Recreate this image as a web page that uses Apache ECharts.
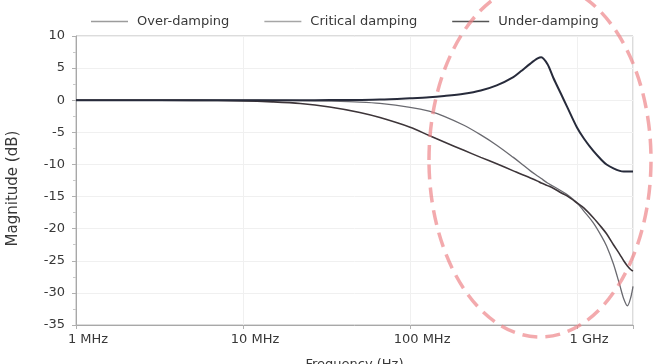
<!DOCTYPE html>
<html>
<head>
<meta charset="utf-8">
<script src="https://cdn.jsdelivr.net/npm/echarts@6/dist/echarts.min.js"></script>
<style>
  html, body { margin: 0; padding: 0; background: #fff; }
  #chart { width: 654px; height: 364px; }
</style>
</head>
<body>
<div id="chart"></div>
<script>
// Frequency sweep points (MHz)
const freqMHz = [1, 2, 5, 10, 15, 22, 33, 50, 66, 100, 130, 160, 210, 265, 330, 415, 460, 525, 580, 610, 665, 720, 800, 870, 1000, 1100, 1250, 1400, 1500, 1650, 1800, 1900, 2000, 2100, 2160];

// Magnitude responses (dB)
const overDamping = [0, 0, -0.02, -0.1, -0.25, -0.5, -1.05, -1.9, -2.7, -4.2, -5.5, -6.5, -7.8, -8.9, -9.9, -11.0, -11.5, -12.1, -12.6, -12.9, -13.3, -13.7, -14.4, -14.9, -16.0, -16.8, -18.3, -19.8, -20.8, -22.5, -24.0, -25.0, -25.8, -26.4, -26.6];
const criticalDamping = [0, 0, 0, 0, -0.02, -0.05, -0.15, -0.3, -0.5, -1.1, -1.7, -2.5, -3.9, -5.4, -7.0, -8.9, -9.8, -11.0, -11.8, -12.2, -12.9, -13.4, -14.1, -14.7, -16.0, -17.3, -19.1, -21.2, -22.7, -25.5, -28.8, -30.9, -32.0, -30.6, -29.0];
const underDamping = [0, 0, 0, 0, 0, 0, 0.02, 0.05, 0.1, 0.3, 0.45, 0.65, 1.0, 1.5, 2.3, 3.6, 4.5, 5.7, 6.5, 6.7, 5.6, 3.5, 1.0, -1.0, -4.3, -6.0, -7.9, -9.3, -10.0, -10.6, -11.0, -11.1, -11.1, -11.1, -11.1];

const seriesNames = ['Over-damping', 'Critical damping', 'Under-damping'];
const decadeLabels = { 1: '1 MHz', 10: '10 MHz', 100: '100 MHz', 1000: '1 GHz' };

const pair = vals => freqMHz.map((f, i) => [f, vals[i]]);
const font = "'DejaVu Sans', 'Liberation Sans', Arial, sans-serif";
const textColor = '#383838';

const chart = echarts.init(document.getElementById('chart'), null, { renderer: 'canvas' });

chart.setOption({
  backgroundColor: '#ffffff',
  animation: false,
  textStyle: { fontFamily: font },
  legend: {
    data: seriesNames,
    top: 10,
    left: 86,
    icon: 'rect',
    itemWidth: 37,
    itemHeight: 1.5,
    itemGap: 35,
    textStyle: { fontSize: 13, color: textColor, fontFamily: font, padding: [0, 0, 0, 4] }
  },
  grid: {
    left: 76, right: 21, top: 36, bottom: 39,
    outerBoundsMode: 'none',
    containLabel: false,
    show: true, borderColor: '#b8b8b8', borderWidth: 1
  },
  xAxis: {
    type: 'log',
    logBase: 10,
    min: 1,
    max: 2160,
    name: 'Frequency (Hz)',
    nameLocation: 'middle',
    nameGap: 33,
    nameTextStyle: { fontSize: 13, color: textColor },
    axisLine: { show: true, onZero: false, lineStyle: { color: '#a8a8a8' } },
    axisTick: { show: true, length: 4, lineStyle: { color: '#b0b0b0' } },
    axisLabel: {
      fontSize: 13, color: textColor, margin: 8,
      padding: [0, 0, 0, 24],
      formatter: v => decadeLabels[Math.round(v)] || ''
    },
    splitLine: { show: true, lineStyle: { color: '#f0f0f0' } }
  },
  yAxis: {
    type: 'value',
    min: -35,
    max: 10,
    interval: 5,
    name: 'Magnitude (dB)',
    nameLocation: 'middle',
    nameGap: 55,
    nameTextStyle: { fontSize: 15, color: textColor, padding: [0, 0, 0, -16] },
    axisLine: { show: true, lineStyle: { color: '#a8a8a8' } },
    axisTick: { show: true, length: 4, lineStyle: { color: '#b0b0b0' } },
    minorTick: { show: true, splitNumber: 2, length: 3, lineStyle: { color: '#c8c8c8' } },
    axisLabel: { fontSize: 13, color: textColor, margin: 11 },
    splitLine: { show: true, lineStyle: { color: '#f0f0f0' } }
  },
  series: [
    {
      name: seriesNames[0], type: 'line', data: pair(overDamping),
      symbol: 'none', smooth: 0.3, z: 3,
      lineStyle: { color: '#3d3539', width: 1.6 }, itemStyle: { color: '#9c9c9c' }
    },
    {
      name: seriesNames[1], type: 'line', data: pair(criticalDamping),
      symbol: 'none', smooth: 0.3, z: 2,
      lineStyle: { color: '#6a6a70', width: 1.3 }, itemStyle: { color: '#a6a6a6' }
    },
    {
      name: seriesNames[2], type: 'line', data: pair(underDamping),
      symbol: 'none', smooth: 0.3, z: 4,
      lineStyle: { color: '#272b3b', width: 2 }, itemStyle: { color: '#555555' }
    }
  ],
  graphic: [
    {
      type: 'ellipse',
      z: 10,
      silent: true,
      shape: { cx: 540, cy: 160, rx: 111, ry: 177 },
      style: {
        fill: 'none',
        stroke: 'rgba(238, 130, 134, 0.68)',
        lineWidth: 3.5,
        lineDash: [15, 8]
      }
    }
  ]
});
</script>
</body>
</html>
